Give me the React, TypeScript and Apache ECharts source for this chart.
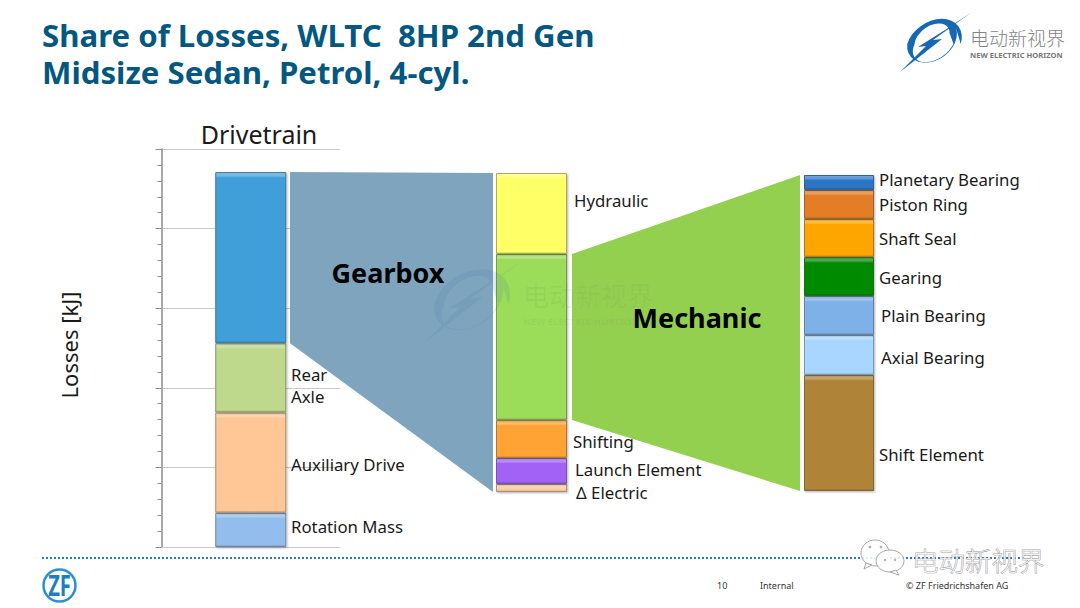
import React, { useEffect, useRef } from "react";
import * as echarts from "echarts";

const titleLines = ["Share of Losses, WLTC  8HP 2nd Gen", "Midsize Sedan, Petrol, 4-cyl."];

const drivetrainNames = ["Rotation Mass", "Auxiliary Drive", "Rear Axle", "Gearbox"];
const drivetrainValues = [43, 126, 87, 215];
const drivetrainColors = ["#93BDED", "#FFC795", "#BFD98C", "#3F9FD9"];

const gearboxNames = ["Δ Electric", "Launch Element", "Shifting", "Mechanic", "Hydraulic"];
const gearboxValues = [5.4, 17.5, 25.6, 112, 54.6];
const gearboxColors = ["#FBCFA8", "#A162F5", "#FFA334", "#9BDC58", "#FFFF66"];

const mechanicNames = ["Shift Element", "Axial Bearing", "Plain Bearing", "Gearing", "Shaft Seal", "Piston Ring", "Planetary Bearing"];
const mechanicValues = [41.1, 14.2, 13.8, 13.8, 13.5, 10.3, 5.3];
const mechanicColors = ["#B08438", "#A8D6FF", "#7EB1E8", "#058A05", "#FFA500", "#E37D28", "#2B75C8"];

const BODY = "'Noto Sans', sans-serif";
const BLUE = "#04587F";

const LOGO =
  "M956.1 28.5 A27 20 -35 1 1 911.9 59.5 A27 20 -35 1 1 956.1 28.5 Z " +
  "M949.5 33.1 A19 12 -35 1 0 918.5 54.9 A19 12 -35 1 0 949.5 33.1 Z " +
  "M972 12 L933 40 L942 39 L900 72 L926 46 L918 47 L945 30 Z";

const mix = (hex: string, target: number, t: number) => {
  const n = parseInt(hex.slice(1), 16);
  const ch = (s: number) => Math.round(((n >> s) & 255) * (1 - t) + target * t);
  return `rgb(${ch(16)},${ch(8)},${ch(0)})`;
};

const sum = (a: number[]) => a.reduce((p, c) => p + c, 0);

function stack(
  names: string[],
  values: number[],
  colors: string[],
  axis: number,
  pxPerUnit: number,
  barWidth: number,
) {
  return names.map((name, i) => {
    const h = values[i] * pxPerUnit;
    const top = Math.min(0.4, 3.5 / h);
    const bot = Math.min(0.3, 2 / h);
    const c = colors[i];
    return {
      type: "bar" as const,
      name,
      stack: "s" + axis,
      xAxisIndex: axis,
      yAxisIndex: axis,
      barWidth,
      data: [values[i]],
      itemStyle: {
        borderColor: mix(c, 70, 0.45),
        borderWidth: 1,
        shadowColor: "rgba(0,0,0,0.3)",
        shadowBlur: 2,
        shadowOffsetX: 1,
        shadowOffsetY: 1,
        color: new echarts.graphic.LinearGradient(0, 0, 0, 1, [
          { offset: 0, color: mix(c, 255, 0.35) },
          { offset: top, color: mix(c, 255, 0.25) },
          { offset: Math.min(0.45, top * 1.5), color: c },
          { offset: 1 - bot, color: c },
          { offset: 1, color: mix(c, 0, 0.2) },
        ]),
      },
    };
  });
}

const text = (
  str: string,
  x: number,
  y: number,
  size: number,
  extra: Record<string, unknown> = {},
  el: Record<string, unknown> = {},
) => ({
  type: "text",
  x,
  y,
  z: 20,
  ...el,
  style: {
    text: str,
    fill: "#1a1a1a",
    font: `${size}px ${BODY}`,
    align: "left",
    verticalAlign: "middle",
    ...extra,
  },
});

export default function App() {
  const ref = useRef<HTMLDivElement>(null);
  useEffect(() => {
    document.body.style.margin = "0";
    document.body.style.background = "#fff";
    echarts.graphic.registerShape("nehLogo", echarts.graphic.extendPath(LOGO, {}) as any);
    const chart = echarts.init(ref.current!, undefined, { renderer: "svg" });

    const hidden = { show: false };
    const G1 = { left: 161.5, top: 149, width: 178.5, height: 398 };
    const G2 = { left: 496, top: 173, width: 71, height: 319 };
    const G3 = { left: 804, top: 175, width: 70, height: 316 };
    const g2Max = sum(gearboxValues);
    const g3Max = sum(mechanicValues);

    chart.setOption({
      animation: false,
      backgroundColor: "#fff",
      grid: [
        { ...G1, containLabel: false },
        { ...G2, containLabel: false },
        { ...G3, containLabel: false },
      ],
      xAxis: [
        { type: "category", gridIndex: 0, data: ["Drivetrain"], axisLabel: hidden, axisTick: hidden, axisLine: { show: true, lineStyle: { color: "#c8c8c8", width: 1 } } },
        { type: "category", gridIndex: 1, data: ["Gearbox"], show: false },
        { type: "category", gridIndex: 2, data: ["Mechanic"], show: false },
      ],
      yAxis: [
        {
          type: "value",
          gridIndex: 0,
          min: 0,
          max: 500,
          interval: 100,
          axisLine: { show: true, lineStyle: { color: "#8c8c8c", width: 1.5 } },
          axisTick: { show: true, length: 6, lineStyle: { color: "#8c8c8c" } },
          minorTick: { show: true, splitNumber: 5, length: 4, lineStyle: { color: "#8c8c8c" } },
          axisLabel: hidden,
          splitLine: { show: true, lineStyle: { color: "#c8c8c8", width: 1 } },
        },
        { type: "value", gridIndex: 1, min: 0, max: g2Max, show: false, splitLine: hidden },
        { type: "value", gridIndex: 2, min: 0, max: g3Max, show: false, splitLine: hidden },
      ],
      series: [
        ...stack(drivetrainNames, drivetrainValues, drivetrainColors, 0, G1.height / 500, 71),
        ...stack(gearboxNames, gearboxValues, gearboxColors, 1, G2.height / g2Max, 71),
        ...stack(mechanicNames, mechanicValues, mechanicColors, 2, G3.height / g3Max, 70),
      ],
    });

    const py = (axis: number, v: number) => chart.convertToPixel({ yAxisIndex: axis } as any, v) as number;
    const dtBelowGearbox = sum(drivetrainValues.slice(0, 3));
    const gbBelowMech = sum(gearboxValues.slice(0, 3));

    const connectors = [
      {
        type: "polygon",
        z: 1,
        shape: {
          points: [
            [290, py(0, sum(drivetrainValues))],
            [493, py(1, g2Max)],
            [493, py(1, 0)],
            [290, py(0, dtBelowGearbox)],
          ],
        },
        style: { fill: "#7FA5BE" },
      },
      {
        type: "polygon",
        z: 1,
        shape: {
          points: [
            [572, py(1, gbBelowMech + gearboxValues[3])],
            [800, py(2, g3Max)],
            [800, py(2, 0)],
            [572, py(1, gbBelowMech)],
          ],
        },
        style: { fill: "#94D050" },
      },
    ];

    const textTitle = { font: `bold 31.2px ${BODY}`, fill: BLUE };
    const footer = { font: `9px ${BODY}`, fill: "#333" };
    const L = 16.8;
    const bubble = { fill: "rgba(255,255,255,0.85)", stroke: "#a8a8a8", lineWidth: 1 };
    const eye = { fill: "#b0b0b0" };

    chart.setOption({
      graphic: [
        ...connectors,
        text(titleLines[0], 42, 35, 31.2, textTitle),
        text(titleLines[1], 42, 72, 31.2, textTitle),
        text("Drivetrain", 259, 134, 25, { align: "center" }),
        text("Losses [kJ]", 69, 345, 22, { align: "center" }, { rotation: Math.PI / 2 }),
        text("Rear\nAxle", 291, 385, L, { lineHeight: 22 }),
        text("Auxiliary Drive", 291, 464, L),
        text("Rotation Mass", 291, 526, L),
        text("Hydraulic", 574, 200, L),
        text("Shifting", 573, 441, L),
        text("Launch Element", 575, 469, L),
        text("Δ Electric", 576, 492, L),
        text("Planetary Bearing", 879, 179, L),
        text("Piston Ring", 879, 204, L),
        text("Shaft Seal", 879, 238, L),
        text("Gearing", 879, 277, L),
        text("Plain Bearing", 881, 315, L),
        text("Axial Bearing", 881, 357, L),
        text("Shift Element", 879, 454, L),
        text("Gearbox", 388, 272, 27, { align: "center", font: `bold 27px ${BODY}`, fill: "#000" }),
        text("Mechanic", 697, 317, 27, { align: "center", font: `bold 27px ${BODY}`, fill: "#000" }),
        // top-right logo
        { type: "nehLogo", z: 10, x: 0, y: 0, style: { fill: "#1568B4" } },
        text("电动新视界", 970, 37, 19, { font: "300 19px 'Noto Sans CJK SC'", fill: "#858585" }),
        text("NEW ELECTRIC HORIZON", 970, 55, 7.6, { font: `bold 7.6px ${BODY}`, fill: "#777" }),
        // centre watermark
        { type: "nehLogo", z: 12, x: -827, y: 243, scaleX: 1.39, scaleY: 1.39, style: { fill: "#4a7fb0", opacity: 0.16 } },
        text("电动新视界", 523, 294, 26, { font: "26px 'Noto Sans CJK SC'", fill: "rgba(90,130,90,0.09)" }),
        text("NEW ELECTRIC HORIZON", 523, 321, 9.5, { font: `bold 9.5px ${BODY}`, fill: "rgba(90,130,90,0.09)" }),
        // footer
        {
          type: "line",
          z: 5,
          shape: { x1: 42, y1: 558, x2: 1026, y2: 558 },
          style: { stroke: "#2A7DA5", lineWidth: 2, lineDash: [2, 2] },
        },
        { type: "ellipse", z: 10, shape: { cx: 59.5, cy: 585.5, rx: 16, ry: 16 }, style: { fill: "#fff", stroke: "#2E8FCC", lineWidth: 2.5 } },
        text("ZF", 0, 0, 28, { align: "center", font: `bold 28px ${BODY}`, fill: "#1E7FC0" }, { x: 59.5, y: 585, scaleX: 0.72 }),
        text("10", 717, 585, 9, footer),
        text("Internal", 760, 585, 9, footer),
        text("© ZF Friedrichshafen AG", 906, 585, 9, footer),
        // bottom-right stamp
        { type: "ellipse", z: 15, shape: { cx: 875, cy: 553, rx: 14, ry: 13 }, style: bubble },
        { type: "polygon", z: 15, shape: { points: [[866, 563], [864, 569], [872, 565]] }, style: bubble },
        { type: "ellipse", z: 15, shape: { cx: 890, cy: 561, rx: 14, ry: 11 }, style: bubble },
        { type: "polygon", z: 15, shape: { points: [[896, 570], [899, 575], [890, 572]] }, style: bubble },
        { type: "circle", z: 16, shape: { cx: 870, cy: 547, r: 1.3 }, style: eye },
        { type: "circle", z: 16, shape: { cx: 881, cy: 547, r: 1.3 }, style: eye },
        { type: "circle", z: 16, shape: { cx: 885, cy: 560, r: 1.2 }, style: eye },
        { type: "circle", z: 16, shape: { cx: 895, cy: 560, r: 1.2 }, style: eye },
        text("电动新视界", 912, 559, 26.5, {
          font: "300 26.5px 'Noto Sans CJK SC'",
          fill: "rgba(255,255,255,0.75)",
          stroke: "#8a8a8a",
          lineWidth: 0.7,
        }),
      ],
    });

    return () => chart.dispose();
  }, []);
  return <div ref={ref} style={{ position: "fixed", left: 0, top: 0, width: 1080, height: 608 }} />;
}
